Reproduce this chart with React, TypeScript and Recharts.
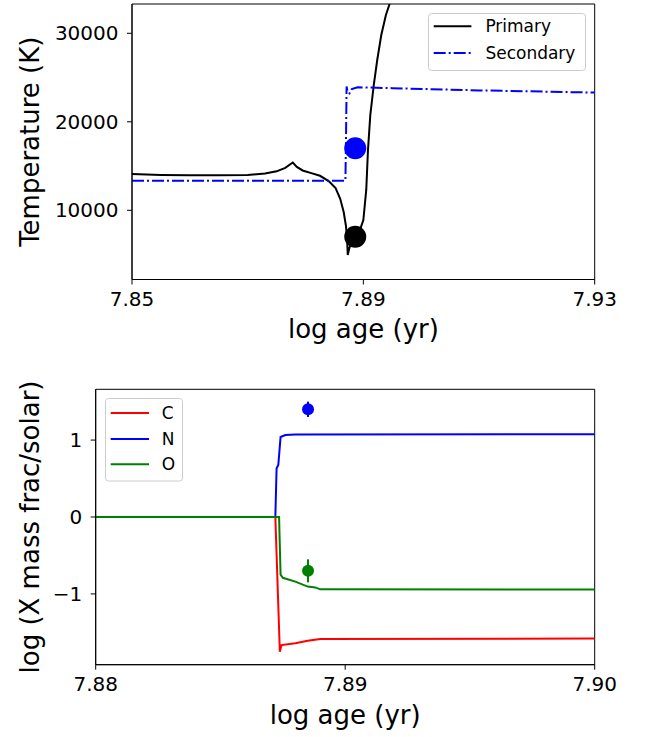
import React from 'react';
import {
  ComposedChart,
  Line,
  Scatter,
  XAxis,
  YAxis,
  ReferenceArea,
  Legend,
  ErrorBar,
} from 'recharts';

const FONT = '"DejaVu Sans", sans-serif';

// ---------- Top panel: temperature ----------
const primaryAge = [
  7.85, 7.855, 7.86, 7.865, 7.87, 7.873, 7.875, 7.8765, 7.8778, 7.8785, 7.8795, 7.881,
  7.8825, 7.884, 7.8852, 7.886, 7.8866, 7.887, 7.8872, 7.8873, 7.8876, 7.8885, 7.8894,
  7.89, 7.8905, 7.8908, 7.8912, 7.8918, 7.8924, 7.8931, 7.8939, 7.8946, 7.895,
];
const primaryTemp = [
  14100, 14000, 13950, 13950, 14000, 14150, 14400, 14800, 15400, 14900, 14500, 14200,
  13900, 13300, 12500, 11300, 9800, 8200, 6500, 4950, 5800, 6600, 7770,
  8900, 12300, 16800, 20760, 24150, 26980, 29800, 32070, 33430, 34100,
];
const secondaryAge = [7.85, 7.8869, 7.887, 7.8871, 7.8873, 7.8876, 7.888, 7.889, 7.895, 7.91, 7.93];
const secondaryTemp = [13350, 13350, 18000, 24000, 23300, 23200, 23700, 23900, 23800, 23550, 23300];
const obsAge = [7.8886];
const obsTempSecondary = [17000];
const obsTempPrimary = [7000];
const topXTicks = [7.85, 7.89, 7.93];
const topYTicks = [10000, 20000, 30000];
const topXDomain = [7.85, 7.93];
const topYDomain = [2180, 33310];

// ---------- Bottom panel: abundances ----------
const cAge = [7.88, 7.8872, 7.88738, 7.88745, 7.888, 7.8885, 7.889, 7.9];
const cVal = [0, 0, -1.75, -1.665, -1.64, -1.61, -1.585, -1.58];
const nAge = [7.88, 7.8872, 7.88725, 7.88732, 7.88741, 7.8876, 7.888, 7.9];
const nVal = [0, 0, 0.63, 0.68, 1.04, 1.065, 1.072, 1.075];
const oAge = [7.88, 7.88735, 7.88741, 7.8875, 7.888, 7.8885, 7.8888, 7.889, 7.9];
const oVal = [0, 0, -0.75, -0.79, -0.84, -0.905, -0.915, -0.94, -0.944];
const obsAbAge = [7.88851];
const obsN = [1.4];
const obsNErr = [0.1];
const obsO = [-0.7];
const obsOErr = [0.15];
const botXTicks = [7.88, 7.89, 7.9];
const botYTicks = [-1, 0, 1];
const botXDomain = [7.88, 7.9];
const botYDomain = [-1.92, 1.66];

const zip = (xs: number[], ys: number[]) => xs.map((x, i) => ({ x, y: ys[i] }));
const zipErr = (xs: number[], ys: number[], es: number[]) =>
  xs.map((x, i) => ({ x, y: ys[i], err: es[i] }));

const primary = zip(primaryAge, primaryTemp);
const secondary = zip(secondaryAge, secondaryTemp);
const dotSecondary = zip(obsAge, obsTempSecondary);
const dotPrimary = zip(obsAge, obsTempPrimary);
const cData = zip(cAge, cVal);
const nData = zip(nAge, nVal);
const oData = zip(oAge, oVal);
const nObs = zipErr(obsAbAge, obsN, obsNErr);
const oObs = zipErr(obsAbAge, obsO, obsOErr);

const tickStyle = { fontSize: 20, fill: '#000', fontFamily: FONT };
const fmt2 = (v: number) => v.toFixed(2);
const fmtMinus = (v: number) => (v < 0 ? '\u2212' + Math.abs(v) : String(v));

const circle = (r: number, color: string) => (props: any) =>
  <circle cx={props.cx} cy={props.cy} r={r} fill={color} />;

const TopLegend = () => (
  <svg width={159} height={59} style={{ display: 'block' }}>
    <rect x={0.5} y={0.5} width={157} height={57} rx={3} fill="#fff" fillOpacity={0.8} stroke="#cccccc" />
    <line x1={5.7} x2={43.4} y1={13.3} y2={13.3} stroke="#000" strokeWidth={2} />
    <text x={57.4} y={19.4} fontSize={17} fontFamily={FONT} fill="#000">Primary</text>
    <line x1={5.7} x2={43.4} y1={40} y2={40} stroke="#0000ff" strokeWidth={2} strokeDasharray="12 3 2 3" />
    <text x={57.4} y={46.1} fontSize={17} fontFamily={FONT} fill="#000">Secondary</text>
  </svg>
);

const BotLegend = () => (
  <svg width={79} height={84} style={{ display: 'block' }}>
    <rect x={0.5} y={0.5} width={77} height={82.5} rx={3} fill="#fff" fillOpacity={0.8} stroke="#cccccc" />
    <line x1={5.7} x2={44} y1={15} y2={15} stroke="#ff0000" strokeWidth={2} />
    <text x={56.7} y={21.1} fontSize={17} fontFamily={FONT} fill="#000">C</text>
    <line x1={5.7} x2={44} y1={41} y2={41} stroke="#0000ff" strokeWidth={2} />
    <text x={56.7} y={47.1} fontSize={17} fontFamily={FONT} fill="#000">N</text>
    <line x1={5.7} x2={44} y1={66.3} y2={66.3} stroke="#008000" strokeWidth={2} />
    <text x={56.7} y={72.4} fontSize={17} fontFamily={FONT} fill="#000">O</text>
  </svg>
);

export default function App() {
  return (
    <div style={{ position: 'absolute', left: 0, top: 0, width: 645, height: 737, background: '#fff' }}>
      <div style={{ position: 'absolute', left: 0, top: 0 }}>
        <ComposedChart width={645} height={370} margin={{ top: 4, right: 50.3, bottom: 60.5, left: 72 }}>
          <XAxis
            type="number"
            dataKey="x"
            domain={topXDomain}
            ticks={topXTicks}
            allowDataOverflow
            tickFormatter={fmt2}
            tick={tickStyle}
            tickSize={5}
            tickMargin={7}
            height={30}
            axisLine={{ stroke: '#000' }}
            tickLine={{ stroke: '#000' }}
          />
          <YAxis
            type="number"
            dataKey="y"
            domain={topYDomain}
            ticks={topYTicks}
            allowDataOverflow
            tick={tickStyle}
            tickSize={5}
            tickMargin={8.5}
            width={60}
            axisLine={{ stroke: '#000' }}
            tickLine={{ stroke: '#000' }}
          />
          <ReferenceArea x1={topXDomain[0]} x2={topXDomain[1]} y1={topYDomain[0]} y2={topYDomain[1]} fill="none" stroke="#000" strokeWidth={1} fillOpacity={0} />
          <Line data={primary} dataKey="y" type="linear" stroke="#000" strokeWidth={2} dot={false} isAnimationActive={false} name="Primary" />
          <Line data={secondary} dataKey="y" type="linear" stroke="#0000ff" strokeWidth={2} strokeDasharray="12 3 2 3" dot={false} isAnimationActive={false} name="Secondary" />
          <Scatter data={dotSecondary} dataKey="y" fill="#0000ff" shape={circle(11, '#0000ff')} isAnimationActive={false} />
          <Scatter data={dotPrimary} dataKey="y" fill="#000" shape={circle(11, '#000')} isAnimationActive={false} />
          <Legend
            layout="vertical"
            align="center"
            verticalAlign="middle"
            content={() => <TopLegend />}
            wrapperStyle={{ position: 'absolute', left: 428, top: 12.5, width: 159, height: 59 }}
          />
        </ComposedChart>
      </div>
      <div style={{ position: 'absolute', left: 0, top: 370 }}>
        <ComposedChart width={645} height={367} margin={{ top: 19.3, right: 50.3, bottom: 42.3, left: 35.7 }}>
          <XAxis
            type="number"
            dataKey="x"
            domain={botXDomain}
            ticks={botXTicks}
            allowDataOverflow
            tickFormatter={fmt2}
            tick={tickStyle}
            tickSize={5}
            tickMargin={7}
            height={30}
            axisLine={{ stroke: '#000' }}
            tickLine={{ stroke: '#000' }}
          />
          <YAxis
            type="number"
            dataKey="y"
            domain={botYDomain}
            ticks={botYTicks}
            allowDataOverflow
            tickFormatter={fmtMinus}
            tick={tickStyle}
            tickSize={5}
            tickMargin={8.5}
            width={60}
            axisLine={{ stroke: '#000' }}
            tickLine={{ stroke: '#000' }}
          />
          <ReferenceArea x1={botXDomain[0]} x2={botXDomain[1]} y1={botYDomain[0]} y2={botYDomain[1]} fill="none" stroke="#000" strokeWidth={1} fillOpacity={0} />
          <Line data={cData} dataKey="y" type="linear" stroke="#ff0000" strokeWidth={2} dot={false} isAnimationActive={false} name="C" />
          <Line data={nData} dataKey="y" type="linear" stroke="#0000ff" strokeWidth={2} dot={false} isAnimationActive={false} name="N" />
          <Line data={oData} dataKey="y" type="linear" stroke="#008000" strokeWidth={2} dot={false} isAnimationActive={false} name="O" />
          <Scatter data={nObs} dataKey="y" fill="#0000ff" shape={circle(6, '#0000ff')} isAnimationActive={false}>
            <ErrorBar dataKey="err" direction="y" width={0} stroke="#0000ff" strokeWidth={2} />
          </Scatter>
          <Scatter data={oObs} dataKey="y" fill="#008000" shape={circle(6, '#008000')} isAnimationActive={false}>
            <ErrorBar dataKey="err" direction="y" width={0} stroke="#008000" strokeWidth={2} />
          </Scatter>
          <Legend
            layout="vertical"
            align="center"
            verticalAlign="middle"
            content={() => <BotLegend />}
            wrapperStyle={{ position: 'absolute', left: 105, top: 27.7, width: 79, height: 84 }}
          />
        </ComposedChart>
      </div>
      <svg width={645} height={737} style={{ position: 'absolute', left: 0, top: 0, pointerEvents: 'none' }}>
        <text x={363.4} y={338} textAnchor="middle" fontSize={26} fontFamily={FONT} fill="#000">log age (yr)</text>
        <text x={345.2} y={724} textAnchor="middle" fontSize={26} fontFamily={FONT} fill="#000">log age (yr)</text>
        <text x={39} y={141.7} textAnchor="middle" fontSize={26} fontFamily={FONT} fill="#000" transform="rotate(-90 39 141.7)">Temperature (K)</text>
        <text x={39} y={527} textAnchor="middle" fontSize={26} fontFamily={FONT} fill="#000" transform="rotate(-90 39 527)">log (X mass frac/solar)</text>
      </svg>
    </div>
  );
}
